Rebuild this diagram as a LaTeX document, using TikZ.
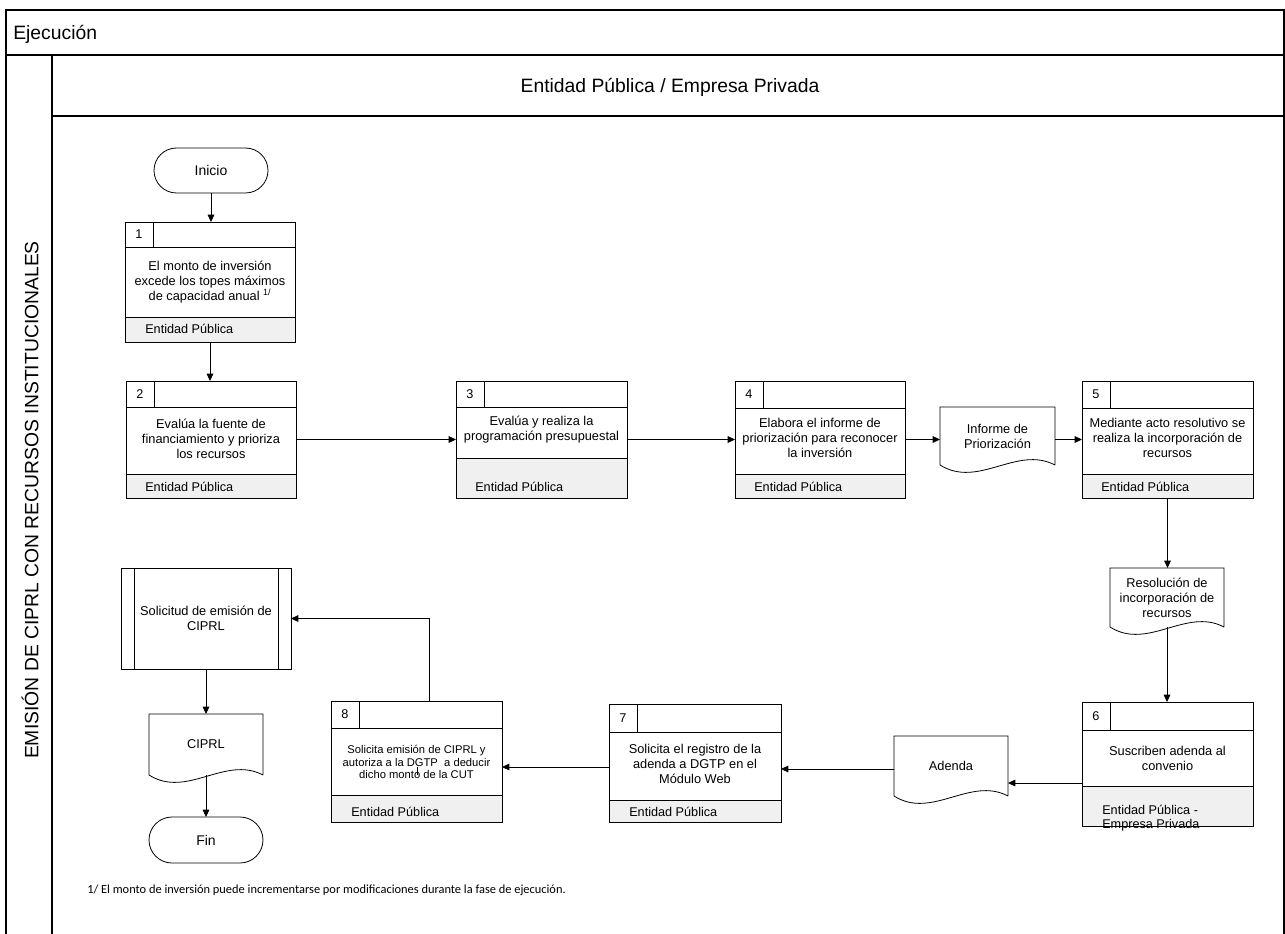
\documentclass[tikz,border=0pt]{standalone}
\usepackage{fontspec}
\setmainfont{Liberation Sans}
\newfontfamily\notefont{Carlito}
\usepackage{tikz}
\usetikzlibrary{positioning,arrows.meta,shapes.misc,calc}

\newdimen\pxu
\pxu=0.75pt

% process box: name, left, top, width, header, body, footer height, number
\newcommand{\procbox}[8]{%
  \fill[footfill] (#2,#3+#5+#6) rectangle (#2+#4,#3+#5+#6+#7);
  \node[boxframe, minimum width={#4*\pxu}, minimum height={(#5+#6+#7)*\pxu}, anchor=north west] (#1) at (#2,#3) {};
  \draw[thinline] (#2,#3+#5) -- (#2+#4,#3+#5);
  \draw[thinline] (#2,#3+#5+#6) -- (#2+#4,#3+#5+#6);
  \draw[thinline] (#2+28,#3) -- (#2+28,#3+#5);
  \node[numtext] (#1n) at (#2+14,#3+#5/2) {#8};
}
% document outline with wavy bottom
\newcommand{\docwave}[1]{%
  \draw[thinline] (#1.south east) -- (#1.north east) -- (#1.north west) -- (#1.south west)
    .. controls ($(#1.south west)!0.333!(#1.south east)+(0,24)$) and ($(#1.south west)!0.667!(#1.south east)+(0,-20)$) .. (#1.south east);
}

\begin{document}
\begin{tikzpicture}[x=0.75pt, y=-0.75pt,
  thinline/.style={line width=0.6pt},
  poolline/.style={line width=0.8pt},
  boxframe/.style={draw, line width=0.6pt, inner sep=0pt, outer sep=0pt},
  footfill/.style={fill=black!6},
  numtext/.style={inner sep=0pt, font=\fontsize{9.5}{11}\selectfont},
  boxtext/.style={inner sep=0pt, align=center, font=\fontsize{9.6}{11.3}\selectfont},
  foottext/.style={inner sep=0pt, anchor=base west, font=\fontsize{9.5}{11}\selectfont},
  docbox/.style={inner sep=0pt, outer sep=0pt, align=center, font=\fontsize{9.6}{11.3}\selectfont},
  termbox/.style={draw, rounded rectangle, line width=0.6pt, inner sep=0pt, outer sep=0pt, minimum width={114*\pxu}, font=\fontsize{10.5}{12}\selectfont},
  flowarrow/.style={line width=0.6pt, -{Triangle[length=5.5pt, width=5pt]}},
  lanetext/.style={inner sep=0pt, font=\fontsize{14.5}{17}\selectfont}]
\useasboundingbox (0,0) rectangle (1285,934);
% pool and lane
\draw[poolline] (6,934) -- (6,10) -- (1284,10) -- (1284,934);
\draw[poolline] (6,55) -- (1284,55);
\draw[poolline] (52,55) -- (52,934);
\draw[poolline] (52,116) -- (1284,116);
\node[lanetext, anchor=base west] (pool) at (13,40) {Ejecución};
\node[lanetext, anchor=base] (lane) at (670,93) {Entidad Pública / Empresa Privada};
\node[lanetext, rotate=90] (lanename) at (30,500) {EMISIÓN DE CIPRL CON RECURSOS INSTITUCIONALES};
% start
\node[termbox, minimum height={45*\pxu}] (ini) at (211,170.5) {Inicio};
% process boxes
\procbox{b1}{125}{222}{170}{25}{70}{25}{1}
\node[boxtext] (b1t) at (210,282) {El monto de inversión\\excede los topes máximos\\de capacidad anual \textsuperscript{1/}};
\node[foottext] (b1f) at (145,334) {Entidad Pública};
\procbox{b2}{126}{381}{170}{26}{67}{24}{2}
\node[boxtext] (b2t) at (211,439) {Evalúa la fuente de\\financiamiento y prioriza\\los recursos};
\node[foottext] (b2f) at (145,491) {Entidad Pública};
\procbox{b3}{456}{381}{171}{26}{51}{40}{3}
\node[boxtext] (b3t) at (541.5,430) {Evalúa y realiza la\\programación presupuestal};
\node[foottext] (b3f) at (475,491) {Entidad Pública};
\procbox{b4}{735}{381}{170}{27}{66}{24}{4}
\node[boxtext] (b4t) at (820,438) {Elabora el informe de\\priorización para reconocer\\la inversión};
\node[foottext] (b4f) at (754,491) {Entidad Pública};
\procbox{b5}{1082}{381}{171}{27}{66}{24}{5}
\node[boxtext] (b5t) at (1167.5,438) {Mediante acto resolutivo se\\realiza la incorporación de\\recursos};
\node[foottext] (b5f) at (1101,491) {Entidad Pública};
\procbox{b6}{1082}{702}{171}{28}{56}{40}{6}
\node[boxtext] (b6t) at (1167.5,758) {Suscriben adenda al\\convenio};
\node[foottext, anchor=west, align=left] (b6f) at (1102,818) {Entidad Pública -\\Empresa Privada};
\draw[thinline] (b6.south west) -- (b6.south east);
\procbox{b7}{609}{704}{172}{28}{68}{22}{7}
\node[boxtext] (b7t) at (695,764) {Solicita el registro de la\\adenda a DGTP en el\\Módulo Web};
\node[foottext] (b7f) at (629,816) {Entidad Pública};
\procbox{b8}{331}{701}{171}{27}{67}{27}{8}
\node[boxtext, font=\fontsize{8.4}{9.5}\selectfont] (b8t) at (416.5,762) {Solicita emisión de CIPRL y\\autoriza a la DGTP\ \ a deducir\\dicho monto de la CUT};
\node[foottext] (b8f) at (351,816) {Entidad Pública};
\draw[thinline] (417,767) -- (417,775);
% documents
\node[docbox, minimum width={115*\pxu}, minimum height={58*\pxu}] (inf) at (997.5,436) {Informe de\\Priorización};
\docwave{inf}
\node[docbox, minimum width={114*\pxu}, minimum height={59*\pxu}] (res) at (1167,597.5) {Resolución de\\incorporación de\\recursos};
\docwave{res}
\node[docbox, minimum width={114*\pxu}, minimum height={60*\pxu}] (ad) at (951,766) {Adenda};
\docwave{ad}
\node[docbox, minimum width={114*\pxu}, minimum height={61*\pxu}] (cip) at (206,744.5) {CIPRL};
\docwave{cip}
% predefined process
\node[boxframe, minimum width={170*\pxu}, minimum height={101*\pxu}, align=center, font=\fontsize{9.6}{11.3}\selectfont] (sol) at (206,618.5) {Solicitud de emisión de\\CIPRL};
\draw[thinline] ([xshift={13*\pxu}]sol.north west) -- ([xshift={13*\pxu}]sol.south west);
\draw[thinline] ([xshift={-13*\pxu}]sol.north east) -- ([xshift={-13*\pxu}]sol.south east);
% end
\node[termbox, minimum height={46*\pxu}] (fin) at (206,840) {Fin};
% connectors
\draw[flowarrow] (ini.south) -- (ini.south |- b1.north);
\draw[flowarrow] (b1.south) -- (b1.south |- b2.north);
\draw[flowarrow] (b2.east) -- (b3.west |- b2.east);
\draw[flowarrow] (b3.east) -- (b4.west |- b3.east);
\draw[flowarrow] (b4.east) -- (inf.west |- b4.east);
\draw[flowarrow] (inf.east |- b5.west) -- (b5.west);
\draw[flowarrow] (b5.south) -- (b5.south |- res.north);
\draw[flowarrow] (res.south) -- (res.south |- b6.north);
\coordinate (a6) at ([yshift={-19*\pxu}]b6.west);
\draw[flowarrow] (a6) -- (a6 -| ad.east);
\coordinate (a7) at ([yshift={-3*\pxu}]ad.west);
\draw[flowarrow] (a7) -- (a7 -| b7.east);
\coordinate (a8) at ([yshift={-4*\pxu}]b7.west);
\draw[flowarrow] (a8) -- (a8 -| b8.east);
\draw[flowarrow] ([xshift={13*\pxu}]b8.north) |- (sol.east);
\draw[flowarrow] (sol.south) -- (cip.north);
\draw[flowarrow] (cip.south) -- (fin.north);
% footnote
\node[inner sep=0pt, anchor=base west, font=\notefont\fontsize{9.3}{11}\selectfont] (note) at (87,893) {1/ El monto de inversión puede incrementarse por modificaciones durante la fase de ejecución.};
\end{tikzpicture}
\end{document}
